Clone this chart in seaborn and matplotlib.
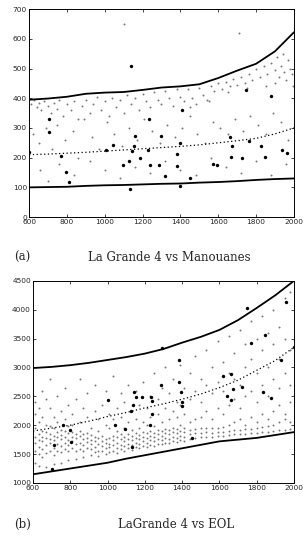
import matplotlib
matplotlib.use("Agg")
import matplotlib.pyplot as plt
import seaborn as sns
import pandas as pd

sns.set_style("white")

# ---- panel (a): La Grande 4 vs Manouanes ----
curve_x = [600, 700, 800, 900, 1000, 1100, 1200, 1300, 1400, 1500, 1600, 1700, 1800, 1900, 2000]
man_upper = [395, 399, 405, 415, 419, 421, 428, 436, 440, 447, 468, 493, 516, 558, 622]
man_mid = [210, 212, 215, 218, 222, 226, 230, 234, 238, 243, 250, 257, 265, 280, 300]
man_lower = [100, 101, 102, 105, 107, 108, 110, 112, 113, 116, 118, 121, 125, 128, 130]

man_big_x = [600, 706, 706, 768, 797, 810, 1005, 1041, 1097, 1127, 1132, 1146, 1153, 1159, 1138,
             1187, 1233, 1226, 1240, 1295, 1286, 1321, 1383, 1383, 1397, 1400, 1406, 1453, 1574,
             1596, 1662, 1671, 1667, 1727, 1745, 1764, 1826, 1847, 1878, 1935, 1962]
man_big_y = [219, 331, 287, 206, 152, 118, 225, 244, 176, 188, 96, 221, 239, 272, 508,
             200, 329, 226, 174, 272, 174, 138, 213, 172, 104, 251, 360, 131, 178,
             174, 270, 239, 202, 200, 429, 256, 239, 202, 408, 225, 216]

man_small_x = [610, 625, 640, 650, 665, 680, 700, 715, 730, 745, 760, 780, 800, 820, 840, 860, 880,
               900, 920, 940, 960, 980, 1000, 1020, 1040, 1060, 1080, 1100, 1120, 1140, 1160, 1180,
               1200, 1220, 1240, 1260, 1280, 1300, 1320, 1340, 1360, 1380, 1400, 1420, 1440, 1460,
               1480, 1500, 1520, 1540, 1560, 1580, 1600, 1620, 1640, 1660, 1680, 1700, 1720, 1740,
               1760, 1780, 1800, 1820, 1840, 1860, 1880, 1900, 1910, 1920, 1930, 1940, 1950, 1960,
               1970, 1980, 1990, 1995, 1900, 1850, 1750, 1650, 1550, 1450,
               620, 650, 690, 720, 750, 790, 830, 860, 890, 930, 970, 1010, 1050, 1090, 1130, 1170,
               1210, 1250, 1290, 1330, 1370, 1410, 1450, 1490, 1530, 1570, 1610, 1650, 1690, 1730,
               1770, 1810, 1850, 1890, 1930, 1970,
               660, 700, 760, 840, 920, 1000, 1080, 1160, 1240, 1320, 1400, 1480, 1560, 1640, 1720,
               1800, 1880, 1960, 1100, 1710]
man_small_y = [380, 395, 370, 385, 360, 390, 375, 350, 385, 365, 395, 340, 380, 360, 390, 330, 375,
               395, 350, 380, 405, 360, 390, 340, 400, 370, 395, 350, 410, 380, 400, 360,
               415, 390, 370, 420, 395, 380, 425, 400, 375, 430, 405, 390, 430, 400,
               380, 435, 410, 395, 440, 425, 450, 430, 455, 440, 465, 445, 470, 450,
               480, 460, 500, 470, 510, 480, 520, 495, 540, 470, 510, 550, 490, 460,
               530, 500, 480, 440, 450, 440, 435, 420, 390, 370,
               280, 250, 300, 230, 310, 260, 290, 200, 330, 270, 230, 320, 280, 240, 300, 260,
               330, 290, 250, 310, 270, 300, 340, 280, 250, 320, 300, 280, 330, 290,
               340, 310, 280, 350, 320, 260,
               160, 120, 180, 140, 190, 160, 130, 170, 150, 190, 160, 140, 200, 170, 150,
               190, 140, 180, 650, 620]

# ---- panel (b): LaGrande 4 vs EOL ----
eol_upper = [2990, 3010, 3040, 3080, 3130, 3180, 3240, 3320, 3430, 3530, 3650, 3820, 4030, 4250, 4500]
eol_mid = [1900, 1950, 2000, 2070, 2150, 2220, 2300, 2370, 2450, 2540, 2650, 2780, 2950, 3120, 3350]
eol_lower = [1150, 1200, 1250, 1300, 1350, 1420, 1480, 1540, 1600, 1660, 1720, 1750, 1780, 1830, 1880]

eol_big_x = [703, 710, 761, 797, 806, 1003, 1039, 1092, 1124, 1137, 1142, 1155, 1185, 1133, 1235,
             1238, 1240, 1226, 1285, 1292, 1383, 1382, 1396, 1400, 1401, 1455, 1620, 1641, 1661,
             1673, 1664, 1722, 1748, 1772, 1847, 1834, 1876, 1933, 1956, 2000]
eol_big_y = [1242, 1650, 1996, 1910, 1702, 2428, 2007, 1933, 2249, 2353, 2572, 2497, 2480, 1616, 2497,
             2422, 2197, 2007, 2698, 3343, 3130, 2745, 2572, 2410, 2341, 1777, 2860, 2508, 2888,
             2629, 2439, 2658, 4022, 3430, 3562, 2583, 2468, 3130, 4137, 3360]

eol_cloud_x = [610, 630, 650, 670, 690, 710, 730, 750, 770, 790, 810, 830, 850, 870, 890, 910, 930,
               950, 970, 990, 1010, 1030, 1050, 1070, 1090, 1110, 1130, 1150, 1170, 1190, 1210,
               1230, 1250, 1270, 1290, 1310, 1330, 1350, 1370, 1390, 1410, 1440, 1470, 1500, 1530,
               1560, 1590, 1620, 1650, 1680, 1710, 1740, 1770, 1800, 1830, 1860, 1890, 1920, 1950, 1980]
eol_cloud_y = [
    [1350, 1550, 1700, 1800, 1950, 2200, 2400], [1300, 1500, 1620, 1750, 1850, 2050, 2300],
    [1450, 1580, 1720, 1800, 1900, 2150, 2600], [1280, 1520, 1650, 1780, 1880, 2000, 2450],
    [1550, 1700, 1760, 1850, 1980, 2300, 2800], [1320, 1480, 1600, 1740, 1820, 1950, 2150],
    [1560, 1680, 1790, 1880, 2050, 2500], [1350, 1530, 1640, 1760, 1830, 1920, 2250],
    [1580, 1700, 1800, 1900, 2100, 2650], [1400, 1550, 1660, 1750, 1860, 1980, 2350],
    [1600, 1720, 1790, 1880, 2000, 2200], [1420, 1560, 1680, 1770, 1850, 2450],
    [1590, 1700, 1810, 1900, 2050, 2800], [1450, 1560, 1650, 1760, 1840, 2300],
    [1600, 1710, 1780, 1870, 2150, 2550], [1480, 1580, 1670, 1750, 1830, 1950],
    [1530, 1620, 1730, 1800, 2250, 2700], [1470, 1560, 1680, 1770, 1900, 2100],
    [1550, 1640, 1720, 1820, 2350], [1500, 1600, 1700, 1760, 2000, 2600],
    [1530, 1620, 1680, 1780, 1950, 2200], [1560, 1650, 1740, 1820, 2100, 2850],
    [1520, 1600, 1700, 1800, 1900, 2300], [1580, 1660, 1760, 1850, 2150, 2550],
    [1550, 1640, 1720, 1800, 1960, 2400], [1600, 1680, 1760, 1840, 2050, 2700],
    [1570, 1650, 1740, 1820, 1920, 2250], [1620, 1700, 1780, 1870, 2100, 2600],
    [1600, 1680, 1760, 1830, 1950, 2350], [1640, 1720, 1800, 1880, 2050, 2750],
    [1620, 1700, 1780, 1860, 2000, 2300], [1660, 1740, 1820, 1900, 2150, 2500],
    [1640, 1720, 1800, 1870, 1980, 2900], [1680, 1760, 1840, 1920, 2200, 2450],
    [1670, 1740, 1820, 1900, 2050, 2650], [1700, 1780, 1860, 1940, 2300, 3000],
    [1690, 1760, 1840, 1920, 2100, 2550], [1720, 1800, 1880, 1960, 2250, 2800],
    [1710, 1780, 1860, 1940, 2150, 2400], [1740, 1820, 1900, 2000, 2350, 3050],
    [1730, 1800, 1880, 1960, 2200, 2650], [1760, 1840, 1920, 2050, 2450, 2900],
    [1780, 1860, 1940, 2100, 2600, 3200], [1790, 1870, 1950, 2150, 2400, 2800],
    [1800, 1880, 1960, 2250, 2700, 3300], [1800, 1870, 1950, 2100, 2550, 3000],
    [1810, 1880, 1960, 2300, 2750, 3450], [1820, 1890, 1970, 2200, 2600, 3100],
    [1830, 1900, 2000, 2350, 2900, 3550], [1840, 1910, 2050, 2450, 2800, 3250],
    [1850, 1920, 2100, 2300, 2700, 3650], [1850, 1930, 2000, 2500, 3000, 3400],
    [1860, 1940, 2150, 2600, 3150, 3800], [1870, 1960, 2050, 2400, 2900, 3500],
    [1880, 1970, 2200, 2700, 3300, 3900], [1890, 1980, 2100, 2500, 3000, 3600],
    [1900, 2000, 2250, 2800, 3400, 4000], [1910, 2050, 2350, 2650, 3150, 3700],
    [1920, 2100, 2200, 2900, 3500, 4200], [1930, 2050, 2400, 2700, 3300, 4300],
]

x_ticks = [600, 800, 1000, 1200, 1400, 1600, 1800, 2000]


def draw_panel(ax, small, big, upper, mid, lower, ylim, yticks):
    # grey cloud of observations, then the darker highlighted points
    sns.scatterplot(data=small, x="x", y="y", ax=ax, color="#7a7a7a", s=2.0,
                    linewidth=0, legend=False)
    sns.scatterplot(data=big, x="x", y="y", ax=ax, color="black", s=6,
                    linewidth=0, legend=False)
    curves = pd.DataFrame({"x": curve_x, "upper": upper, "mid": mid, "lower": lower})
    sns.lineplot(data=curves, x="x", y="upper", ax=ax, color="black", lw=1.3)
    sns.lineplot(data=curves, x="x", y="lower", ax=ax, color="black", lw=1.3)
    sns.lineplot(data=curves, x="x", y="mid", ax=ax, color="black", lw=0.9, ls=(0, (1, 2)))
    ax.set_xlim(600, 2000)
    ax.set_ylim(*ylim)
    ax.set_xticks(x_ticks)
    ax.set_yticks(yticks)
    ax.set_xlabel("")
    ax.set_ylabel("")
    ax.tick_params(direction="in", length=2, width=0.6, labelsize=5.3, pad=1.5,
                   top=True, right=True, bottom=True, left=True)
    for sp in ax.spines.values():
        sp.set_color("black")
        sp.set_linewidth(0.7)


fig = plt.figure(figsize=(3.03, 5.36), dpi=100)
ax_a = fig.add_axes([0.096, 0.595, 0.874, 0.388])
ax_b = fig.add_axes([0.109, 0.099, 0.861, 0.377])

man_small = pd.DataFrame({"x": man_small_x, "y": man_small_y})
man_big = pd.DataFrame({"x": man_big_x, "y": man_big_y})
draw_panel(ax_a, man_small, man_big, man_upper, man_mid, man_lower,
           (0, 700), [0, 100, 200, 300, 400, 500, 600, 700])

cloud_rows = [(cx, cy) for cx, col in zip(eol_cloud_x, eol_cloud_y) for cy in col]
eol_small = pd.DataFrame(cloud_rows, columns=["x", "y"])
eol_big = pd.DataFrame({"x": eol_big_x, "y": eol_big_y})
draw_panel(ax_b, eol_small, eol_big, eol_upper, eol_mid, eol_lower,
           (1000, 4500), [1000, 1500, 2000, 2500, 3000, 3500, 4000, 4500])

cap = dict(family="DejaVu Serif", fontsize=8.5, va="center")
fig.text(0.045, 0.519, "(a)", ha="left", **cap)
fig.text(0.56, 0.519, "La Grande 4 vs Manouanes", ha="center", **cap)
fig.text(0.045, 0.021, "(b)", ha="left", **cap)
fig.text(0.58, 0.021, "LaGrande 4 vs EOL", ha="center", **cap)

fig.savefig("out.png", dpi=100)
